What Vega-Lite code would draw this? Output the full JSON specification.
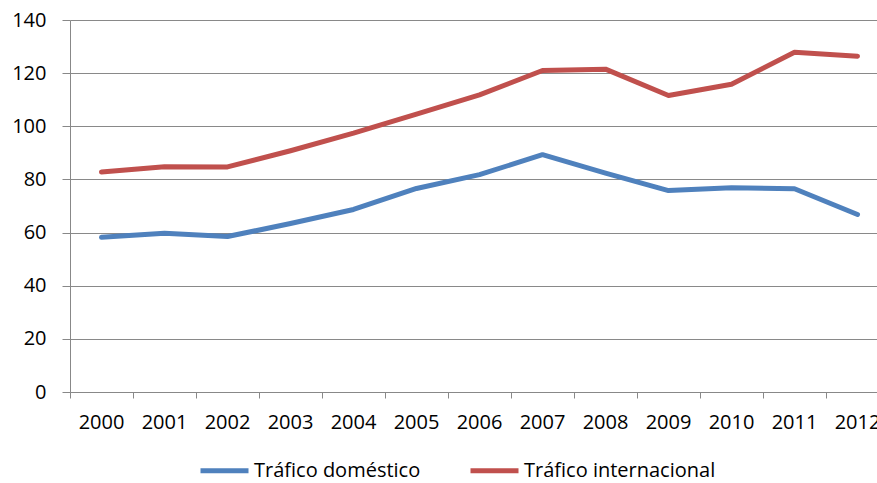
{
  "$schema": "https://vega.github.io/schema/vega-lite/v6.json",
  "autosize": "none",
  "width": 807,
  "height": 372,
  "padding": {"left": 70, "top": 20, "right": 0, "bottom": 91},
  "background": "white",
  "config": {
    "view": {"stroke": null},
    "font": "Open Sans"
  },
  "data": {
    "values": [
      {"year": "2000", "serie": "Tráfico doméstico", "valor": 58.2},
      {"year": "2001", "serie": "Tráfico doméstico", "valor": 59.7},
      {"year": "2002", "serie": "Tráfico doméstico", "valor": 58.5},
      {"year": "2003", "serie": "Tráfico doméstico", "valor": 63.4},
      {"year": "2004", "serie": "Tráfico doméstico", "valor": 68.7},
      {"year": "2005", "serie": "Tráfico doméstico", "valor": 76.6},
      {"year": "2006", "serie": "Tráfico doméstico", "valor": 81.8},
      {"year": "2007", "serie": "Tráfico doméstico", "valor": 89.3},
      {"year": "2008", "serie": "Tráfico doméstico", "valor": 82.4},
      {"year": "2009", "serie": "Tráfico doméstico", "valor": 75.8},
      {"year": "2010", "serie": "Tráfico doméstico", "valor": 76.9},
      {"year": "2011", "serie": "Tráfico doméstico", "valor": 76.5},
      {"year": "2012", "serie": "Tráfico doméstico", "valor": 66.8},
      {"year": "2000", "serie": "Tráfico internacional", "valor": 82.8},
      {"year": "2001", "serie": "Tráfico internacional", "valor": 84.8},
      {"year": "2002", "serie": "Tráfico internacional", "valor": 84.7},
      {"year": "2003", "serie": "Tráfico internacional", "valor": 90.8},
      {"year": "2004", "serie": "Tráfico internacional", "valor": 97.4},
      {"year": "2005", "serie": "Tráfico internacional", "valor": 104.6},
      {"year": "2006", "serie": "Tráfico internacional", "valor": 111.8},
      {"year": "2007", "serie": "Tráfico internacional", "valor": 121.0},
      {"year": "2008", "serie": "Tráfico internacional", "valor": 121.5},
      {"year": "2009", "serie": "Tráfico internacional", "valor": 111.6},
      {"year": "2010", "serie": "Tráfico internacional", "valor": 115.8},
      {"year": "2011", "serie": "Tráfico internacional", "valor": 127.9},
      {"year": "2012", "serie": "Tráfico internacional", "valor": 126.4}
    ]
  },
  "mark": {"type": "line", "strokeWidth": 5, "strokeCap": "round", "strokeJoin": "round"},
  "encoding": {
    "x": {
      "field": "year",
      "type": "ordinal",
      "bandPosition": 0.5,
      "scale": {"type": "band", "paddingInner": 0, "paddingOuter": 0, "range": [0, 819]},
      "axis": {
        "title": null,
        "bandPosition": 0,
        "labelAngle": 0,
        "labelFont": "Open Sans",
        "labelFontSize": 20,
        "labelColor": "#000000",
        "labelPadding": 14,
        "labelOverlap": false,
        "labelBound": false,
        "tickSize": 6,
        "tickColor": "#888888",
        "domainColor": "#888888",
        "grid": false
      }
    },
    "y": {
      "field": "valor",
      "type": "quantitative",
      "scale": {"domain": [0, 140]},
      "axis": {
        "title": null,
        "values": [0, 20, 40, 60, 80, 100, 120, 140],
        "labelFont": "Open Sans",
        "labelFontSize": 20,
        "labelColor": "#000000",
        "labelPadding": 16,
        "tickSize": 8,
        "tickColor": "#888888",
        "domainColor": "#888888",
        "gridColor": "#898989",
        "gridWidth": 1.2
      }
    },
    "color": {
      "field": "serie",
      "type": "nominal",
      "scale": {"domain": ["Tráfico doméstico", "Tráfico internacional"], "range": ["#4F81BD", "#C0504D"]},
      "legend": {
        "title": null,
        "orient": "none",
        "direction": "horizontal",
        "legendX": 128,
        "legendY": 424,
        "symbolType": "stroke",
        "symbolSize": 2304,
        "symbolStrokeWidth": 5,
        "labelFont": "Open Sans",
        "labelFontSize": 20,
        "labelColor": "#000000",
        "labelOffset": 3,
        "labelLimit": 400,
        "columnPadding": 39
      }
    }
  }
}
